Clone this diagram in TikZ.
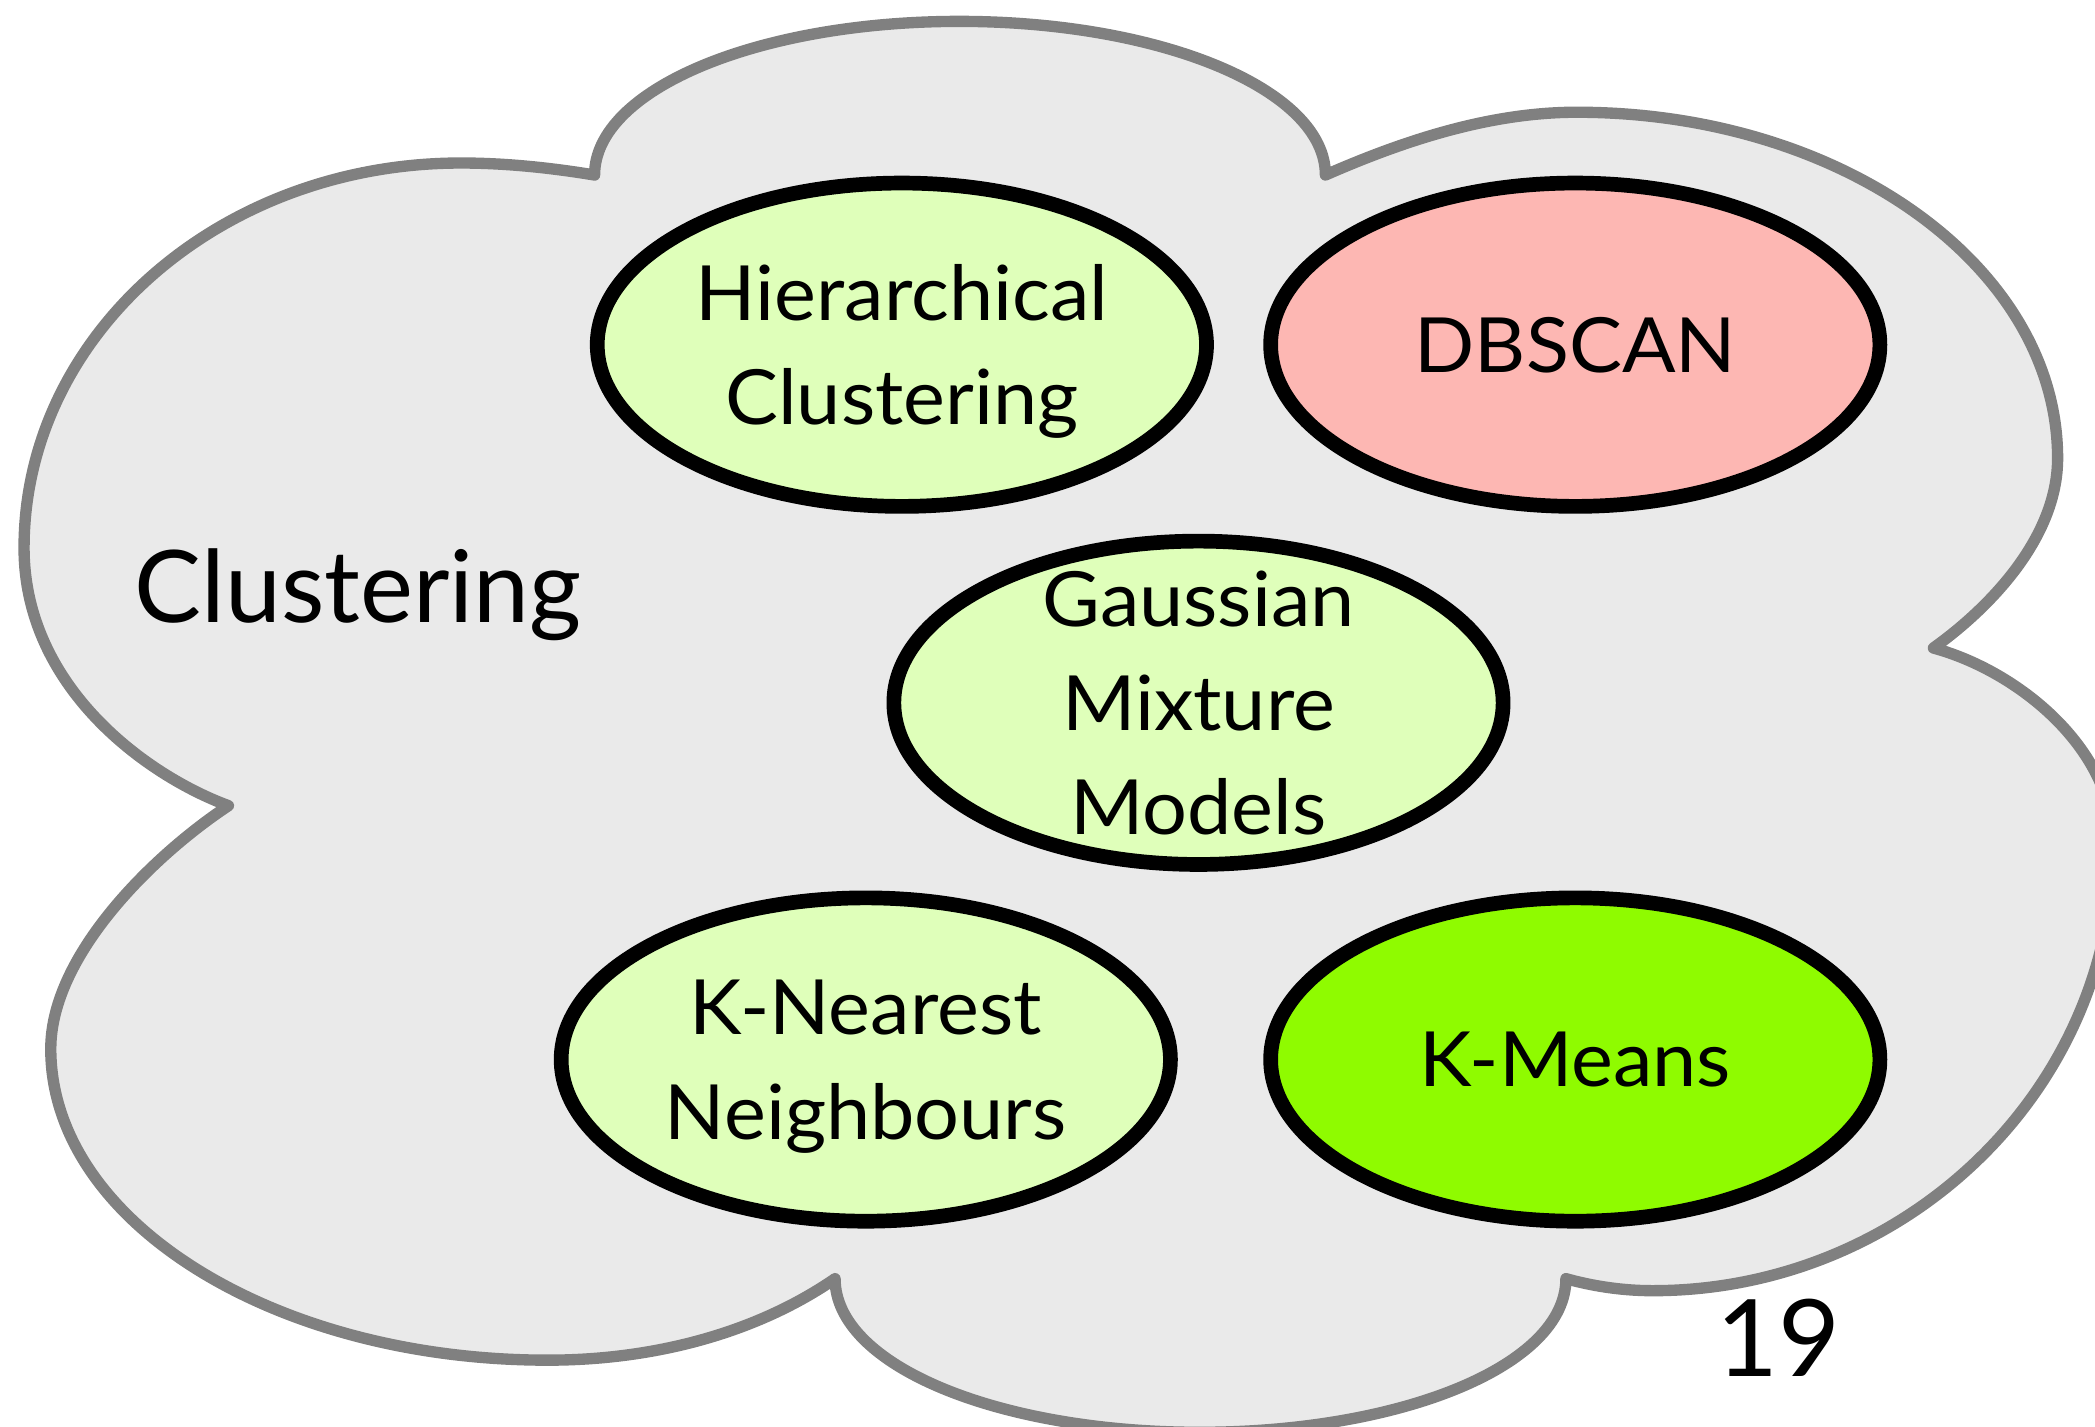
\documentclass[tikz,border=0pt]{standalone}
\usepackage{fontspec}
\setmainfont{Lato}
\newfontfamily\blobfont[FakeStretch=1.04]{Lato}
\usetikzlibrary{shapes.geometric}

\definecolor{cloudfill}{HTML}{EAEAEA}
\definecolor{cloudline}{HTML}{808080}
\definecolor{palegreen}{HTML}{DFFFBA}
\definecolor{salmon}{HTML}{FDB7B3}
\definecolor{brightlime}{HTML}{8FFB00}

% equal height/depth per line so every text block centres on its cap-height
\newcommand\lineStrut{\rule[-0.25em]{0pt}{1.22em}}

\begin{document}
\begin{tikzpicture}[x=1pt,y=-1pt,
  cloudshape/.style={draw=cloudline, fill=cloudfill, line width=8.5pt, line join=round},
  blob/.style={ellipse, draw=black, line width=11pt,
    minimum width=456pt, minimum height=242pt, inner sep=0pt},
  soft/.style={blob, fill=palegreen},
  blobtext/.style={inner sep=0pt, align=center,
    font=\blobfont\fontsize{57}{78}\selectfont},
  title/.style={font=\fontsize{75}{80}\selectfont, inner sep=0pt, anchor=base},
  pagenum/.style={font=\fontsize{80}{80}\selectfont, inner sep=0pt, anchor=base}
]
\useasboundingbox (0,0) rectangle (1568,1068);

% cusps between the lobes of the cloud
\coordinate (A) at (445,131);
\coordinate (B) at (992,131);
\coordinate (C) at (1447,485);
\coordinate (D) at (1172,957);
\coordinate (E) at (625,957);
\coordinate (F) at (171,603);

% six lobes, each built from near-elliptic cubic pieces
\draw[cloudshape] (A)
  % top lobe
  .. controls (445,67) and (567,16) .. (718,16)
  .. controls (869,16) and (992,67) .. (B)
  % upper right lobe
  .. controls (1049,106) and (1114,84) .. (1180,84)
  .. controls (1379,84) and (1540,200) .. (1540,343)
  .. controls (1540,405) and (1485,458) .. (C)
  % right lobe
  .. controls (1510,502) and (1582,560) .. (1582,632)
  .. controls (1582,816) and (1426,966) .. (1237,966)
  .. controls (1212,966) and (1190,962) .. (D)
  % bottom lobe
  .. controls (1172,1022) and (1049,1072) .. (898,1072)
  .. controls (747,1072) and (625,1022) .. (E)
  % lower left lobe
  .. controls (570,995) and (495,1018) .. (410,1018)
  .. controls (205,1018) and (38,914) .. (38,785)
  .. controls (38,715) and (115,640) .. (F)
  % left lobe
  .. controls (111,581) and (18,515) .. (18,410)
  .. controls (18,251) and (164,122) .. (345,122)
  .. controls (380,122) and (415,126) .. (A)
  -- cycle;

\node[title] (cl) at (268,466) {Clustering};

% the five methods
\node[soft] (hc) at (675,258) {};
\node[blob, fill=salmon] (db) at (1179,258) {};
\node[soft] (gmm) at (897,526) {};
\node[soft] (knn) at (648,793) {};
\node[blob, fill=brightlime] (km) at (1179,793) {};

\node[blobtext] (hc-t) at (hc.center) {\lineStrut Hierarchical\\\lineStrut Clustering};
\node[blobtext] (db-t) at (db.center) {\lineStrut DBSCAN};
\node[blobtext] (gmm-t) at (gmm.center) {\lineStrut Gaussian\\\lineStrut Mixture\\\lineStrut Models};
\node[blobtext] (knn-t) at (knn.center) {\lineStrut K-Nearest\\\lineStrut Neighbours};
\node[blobtext] (km-t) at (km.center) {\lineStrut K-Means};

\node[pagenum] (pg) at (1331,1030) {19};
\end{tikzpicture}
\end{document}
